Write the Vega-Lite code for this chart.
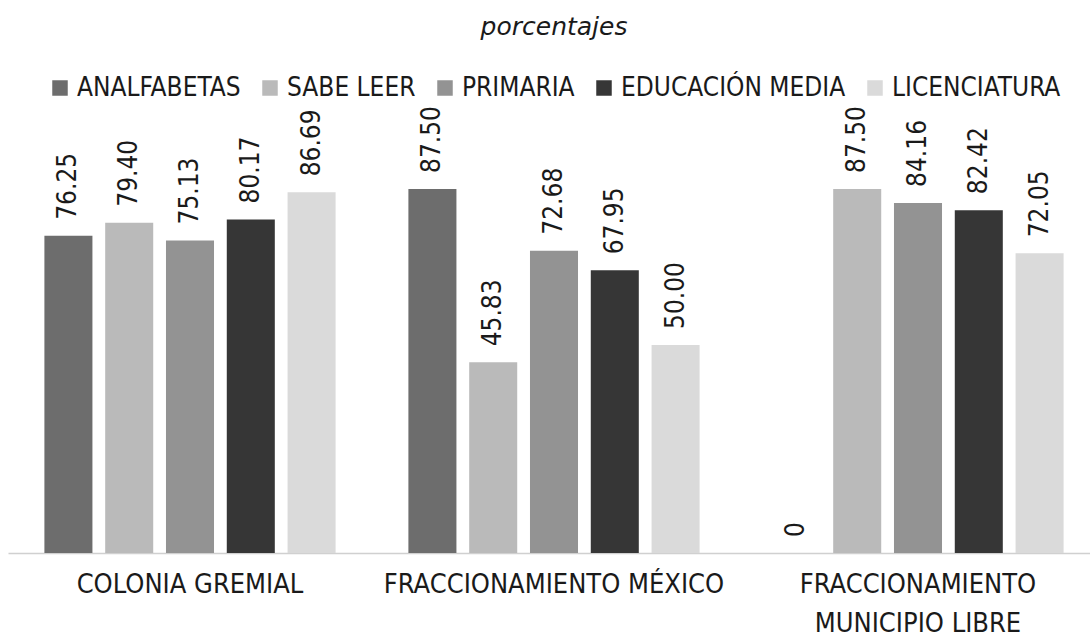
{
  "$schema": "https://vega.github.io/schema/vega-lite/v6.json",
  "autosize": "none",
  "width": 1092,
  "height": 416,
  "padding": {"left": 8, "top": 137, "right": -10, "bottom": 84},
  "background": "white",
  "config": {"view": {"stroke": null}},
  "title": {
    "text": "porcentajes",
    "font": "DejaVu Sans",
    "fontStyle": "italic",
    "fontWeight": "normal",
    "fontSize": 25,
    "color": "#1a1a1a",
    "anchor": "middle",
    "frame": "group",
    "offset": 35
  },
  "data": {
    "values": [
      {"colonia": "COLONIA GREMIAL", "nivel": "ANALFABETAS", "valor": 76.25},
      {"colonia": "COLONIA GREMIAL", "nivel": "SABE LEER", "valor": 79.40},
      {"colonia": "COLONIA GREMIAL", "nivel": "PRIMARIA", "valor": 75.13},
      {"colonia": "COLONIA GREMIAL", "nivel": "EDUCACIÓN MEDIA", "valor": 80.17},
      {"colonia": "COLONIA GREMIAL", "nivel": "LICENCIATURA", "valor": 86.69},
      {"colonia": "FRACCIONAMIENTO MÉXICO", "nivel": "ANALFABETAS", "valor": 87.50},
      {"colonia": "FRACCIONAMIENTO MÉXICO", "nivel": "SABE LEER", "valor": 45.83},
      {"colonia": "FRACCIONAMIENTO MÉXICO", "nivel": "PRIMARIA", "valor": 72.68},
      {"colonia": "FRACCIONAMIENTO MÉXICO", "nivel": "EDUCACIÓN MEDIA", "valor": 67.95},
      {"colonia": "FRACCIONAMIENTO MÉXICO", "nivel": "LICENCIATURA", "valor": 50.00},
      {"colonia": "FRACCIONAMIENTO MUNICIPIO LIBRE", "nivel": "ANALFABETAS", "valor": 0},
      {"colonia": "FRACCIONAMIENTO MUNICIPIO LIBRE", "nivel": "SABE LEER", "valor": 87.50},
      {"colonia": "FRACCIONAMIENTO MUNICIPIO LIBRE", "nivel": "PRIMARIA", "valor": 84.16},
      {"colonia": "FRACCIONAMIENTO MUNICIPIO LIBRE", "nivel": "EDUCACIÓN MEDIA", "valor": 82.42},
      {"colonia": "FRACCIONAMIENTO MUNICIPIO LIBRE", "nivel": "LICENCIATURA", "valor": 72.05}
    ]
  },
  "encoding": {
    "x": {
      "field": "colonia",
      "type": "nominal",
      "sort": null,
      "title": null,
      "scale": {"paddingInner": 0.2, "paddingOuter": 0.1},
      "axis": {
        "labelAngle": 0,
        "labelFont": "DejaVu Sans Condensed",
        "labelFontSize": 27,
        "labelColor": "#1a1a1a",
        "labelPadding": 18,
        "labelLimit": 400,
        "labelLineHeight": 39,
        "ticks": false,
        "domainColor": "#d0d0d0",
        "domainWidth": 1.5,
        "labelExpr": "datum.label == 'FRACCIONAMIENTO MUNICIPIO LIBRE' ? ['FRACCIONAMIENTO', 'MUNICIPIO LIBRE'] : datum.label"
      }
    },
    "xOffset": {
      "field": "nivel",
      "type": "nominal",
      "sort": ["ANALFABETAS", "SABE LEER", "PRIMARIA", "EDUCACIÓN MEDIA", "LICENCIATURA"],
      "scale": {"paddingInner": 0.21, "paddingOuter": 0}
    },
    "y": {
      "field": "valor",
      "type": "quantitative",
      "scale": {"domain": [0, 100]},
      "axis": null
    }
  },
  "layer": [
    {
      "mark": {"type": "bar"},
      "encoding": {
        "color": {
          "field": "nivel",
          "type": "nominal",
          "sort": ["ANALFABETAS", "SABE LEER", "PRIMARIA", "EDUCACIÓN MEDIA", "LICENCIATURA"],
          "scale": {"range": ["#6d6d6d", "#bababa", "#939393", "#363636", "#dadada"]},
          "legend": {
            "title": null,
            "orient": "none",
            "direction": "horizontal",
            "legendX": 39,
            "legendY": -62,
            "symbolType": "square",
            "symbolSize": 240,
            "symbolStrokeWidth": 0,
            "labelFont": "DejaVu Sans Condensed",
            "labelFontSize": 26,
            "labelColor": "#1a1a1a",
            "labelOffset": 4,
            "labelLimit": 400,
            "columnPadding": 16
          }
        }
      }
    },
    {
      "transform": [
        {"calculate": "datum.valor == 0 ? '0' : format(datum.valor, '.2f')", "as": "etiqueta"}
      ],
      "mark": {
        "type": "text",
        "angle": 270,
        "align": "left",
        "baseline": "middle",
        "dx": 16,
        "font": "DejaVu Sans Condensed",
        "fontSize": 26,
        "color": "#1a1a1a"
      },
      "encoding": {
        "text": {"field": "etiqueta", "type": "nominal"}
      }
    }
  ]
}
